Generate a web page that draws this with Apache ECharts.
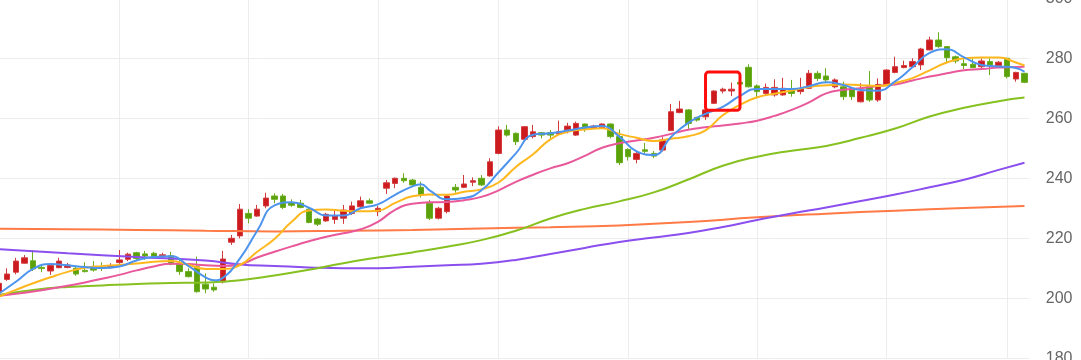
<!DOCTYPE html>
<html>
<head>
<meta charset="utf-8">
<script src="https://cdn.jsdelivr.net/npm/echarts@6/dist/echarts.min.js"></script>
<style>
html,body{margin:0;padding:0;background:#fff;}
#chart{width:1081px;height:360px;}
</style>
</head>
<body>
<div id="chart"></div>
<script>
// ---- data ----
const categories = Array.from({length: 120}, (_, i) => 'D' + (i + 1));

// [open, close, lowest, highest]
const candles = [
[202.0,205.0,201.0,206.0],[206.3,208.1,205.8,210.0],[208.7,212.4,208.0,213.5],[211.7,213.5,211.5,214.4],
[212.5,209.8,209.1,216.1],[210.3,209.9,208.7,211.3],[209.1,210.9,207.8,211.0],[210.2,212.4,210.0,213.5],
[210.3,211.1,210.0,211.8],[210.0,208.1,207.5,210.5],[209.3,208.9,208.6,212.0],[210.5,209.4,208.9,212.4],
[210.5,210.0,209.1,212.0],[210.3,210.8,210.0,211.7],[211.9,212.8,211.5,216.1],[213.0,214.7,212.4,215.2],
[215.2,213.3,212.8,215.5],[214.8,214.1,212.8,215.8],[215.0,213.9,213.3,215.5],[214.2,214.5,213.3,215.2],
[214.2,211.4,211.0,215.5],[211.4,208.9,207.8,212.8],[208.9,207.2,207.0,210.0],[210.5,202.2,201.9,213.9],
[204.7,203.1,201.7,208.3],[203.7,202.8,202.2,205.0],[205.5,213.1,205.0,215.8],[218.7,220.0,217.8,221.1],
[220.8,229.7,220.0,231.4],[228.3,226.7,225.0,229.7],[227.4,229.7,227.2,231.1],[230.8,233.4,230.0,235.2],
[234.1,233.0,231.7,235.0],[234.1,230.3,229.7,234.8],[231.9,231.0,230.5,233.0],[231.7,230.3,230.0,232.8],
[229.7,225.3,225.0,230.0],[226.4,224.7,224.1,226.8],[225.8,228.0,225.5,228.5],[226.3,227.4,224.8,229.2],
[226.7,229.4,224.8,231.1],[228.3,230.8,227.8,232.2],[230.5,232.5,230.0,233.9],[232.5,231.7,231.4,233.3],
[228.9,230.0,227.4,230.8],[236.7,238.5,234.8,239.4],[238.3,240.0,236.7,240.3],[240.0,239.2,238.5,241.7],
[239.4,237.8,237.4,239.8],[237.0,234.4,233.6,238.9],[231.7,226.7,226.1,232.8],[226.7,230.0,226.3,230.5],
[228.9,234.1,228.3,234.4],[237.0,236.1,235.2,238.1],[237.0,238.1,236.7,241.1],[238.7,239.2,237.4,240.3],
[240.0,237.8,237.4,241.1],[240.8,245.5,240.5,246.7],[248.3,256.1,248.0,257.3],[256.1,254.4,253.9,257.8],
[255.0,252.2,251.1,255.3],[253.0,257.2,252.5,257.4],[253.9,255.5,253.3,257.8],[255.2,254.4,253.3,255.5],
[255.2,254.4,253.3,256.1],[254.8,255.5,254.5,259.2],[256.1,257.4,255.0,258.5],[254.4,258.3,254.1,258.9],
[258.1,256.7,255.5,258.3],[256.8,257.4,256.4,257.8],[256.8,258.1,256.5,258.3],[258.1,253.9,253.3,258.3],
[253.9,245.2,244.4,256.3],[249.6,247.2,245.9,250.0],[246.3,248.3,245.0,249.2],[249.5,249.0,247.8,251.8],
[248.3,247.4,246.7,249.1],[249.4,252.8,248.9,253.7],[255.9,262.2,255.8,264.8],[261.9,263.1,261.7,265.8],
[262.8,258.3,256.1,263.1],[260.3,259.4,258.9,260.5],[260.5,262.8,259.4,263.3],[265.0,269.1,264.8,269.3],
[269.1,269.7,268.3,270.2],[269.1,269.7,267.4,271.9],[272.0,271.4,271.2,272.2],[277.0,270.5,270.3,278.0],
[270.8,268.9,266.7,271.3],[268.3,270.3,267.8,271.6],[267.8,270.3,267.2,273.0],[267.8,270.0,267.5,273.5],
[269.8,268.3,267.2,272.8],[268.9,269.8,268.0,273.5],[270.0,275.0,269.8,276.1],[275.0,273.3,272.4,275.8],
[274.1,272.8,271.7,276.7],[270.5,272.8,270.0,273.3],[270.5,267.2,266.1,272.2],[270.0,267.2,266.1,270.5],
[265.5,268.9,265.3,271.7],[270.9,266.1,265.5,275.8],[266.1,271.3,265.5,273.3],[271.3,276.1,271.1,276.4],
[275.3,277.2,275.0,280.5],[276.9,277.6,276.7,279.2],[277.2,278.9,276.9,280.0],[277.8,283.1,276.1,283.5],
[282.8,286.1,282.7,287.2],[286.1,283.9,283.5,288.7],[283.9,280.2,278.7,284.0],[280.5,279.1,278.3,280.9],
[278.2,277.6,276.4,279.7],[278.0,276.9,276.7,280.0],[277.2,279.1,276.7,280.0],[278.9,277.8,274.4,280.0],
[277.6,278.7,277.2,279.1],[280.0,273.9,273.3,280.2],[273.1,275.3,272.2,275.5],[275.0,272.0,271.7,275.2]
];

// moving-average lines: [candle index, value]
const ma5 = [[0,201.5],[2,205.5],[4,209.8],[6,211.4],[8,211.0],[10,210.4],[12,210.1],[14,210.6],[16,212.6],[18,213.8],
[20,214.0],[22,210.8],[24,207.0],[25,206.0],[26,206.8],[28,213.3],[30,222.5],[32,231.0],[34,232.0],[36,230.2],[38,227.6],
[40,227.6],[42,230.0],[44,231.3],[46,234.5],[48,237.3],[49,238.0],[50,236.0],[52,233.0],[54,233.4],[56,236.0],[58,242.0],
[60,248.3],[62,254.5],[64,255.0],[66,255.9],[68,256.9],[70,257.4],[72,253.9],[74,249.0],[76,247.8],[78,253.8],[80,258.5],
[82,261.5],[84,263.8],[86,267.5],[88,269.8],[90,269.8],[92,269.8],[94,270.7],[96,272.0],[98,271.1],[100,269.4],[102,269.2],
[104,272.3],[106,277.0],[108,281.8],[110,283.0],[112,280.3],[114,277.8],[116,277.3],[118,276.8],[119,275.5]];

const ma10 = [[0,200.5],[2,202.8],[4,205.0],[6,207.0],[8,208.8],[10,210.2],[12,210.7],[14,211.1],[16,211.6],[18,212.2],
[20,212.4],[22,211.2],[24,209.8],[26,209.8],[28,211.1],[30,215.5],[32,219.8],[34,225.5],[36,229.3],[38,229.6],[40,229.2],
[42,229.0],[44,229.2],[46,231.8],[48,234.0],[50,234.6],[52,234.5],[54,235.5],[56,236.3],[58,238.6],[60,243.8],[62,248.0],
[64,253.0],[66,255.5],[68,256.3],[70,256.7],[72,254.8],[74,253.5],[76,252.4],[78,253.2],[80,254.0],[82,256.0],[84,261.0],
[86,264.5],[88,267.0],[90,268.2],[92,269.3],[94,270.4],[96,271.0],[98,271.3],[100,271.0],[102,270.8],[104,271.8],[106,273.4],
[108,276.0],[110,278.6],[112,280.0],[114,280.3],[116,280.3],[118,278.6],[119,277.6]];

const ma20 = [[0,200.8],[2,201.5],[4,202.3],[6,203.2],[8,204.2],[10,205.3],[12,206.5],[14,207.8],[16,209.3],[18,210.6],
[20,211.5],[22,211.4],[24,211.0],[26,210.8],[28,211.3],[30,213.6],[32,215.5],[34,217.3],[36,219.0],[38,220.5],[40,221.7],
[42,223.0],[44,225.5],[46,229.5],[48,231.5],[50,232.0],[52,232.1],[54,232.7],[56,233.8],[58,236.0],[60,238.8],[62,241.2],
[64,243.3],[66,245.0],[68,247.5],[70,250.2],[72,251.7],[74,252.6],[76,253.5],[78,254.8],[80,256.2],[82,257.0],[84,257.6],
[86,258.3],[88,259.2],[90,260.8],[92,262.8],[94,265.3],[96,268.3],[98,269.5],[100,270.0],[102,270.8],[104,271.3],[106,272.6],
[108,273.9],[110,275.0],[112,276.0],[114,276.4],[116,276.9],[118,277.1],[119,277.2]];

const ma60 = [[0,201.1],[4,202.8],[8,203.8],[12,204.3],[16,204.8],[20,205.1],[24,205.3],[28,206.0],[32,207.6],[36,209.5],
[40,211.7],[44,213.6],[48,215.3],[52,217.2],[56,219.4],[60,222.5],[64,226.6],[68,229.8],[72,232.3],[76,235.3],[80,239.6],
[84,244.2],[88,247.2],[92,249.2],[96,250.8],[100,253.5],[104,256.6],[108,260.6],[112,263.5],[116,265.7],[119,266.9]];

const ma120 = [[0,216.4],[8,215.0],[16,213.8],[24,212.6],[28,211.3],[32,210.8],[36,210.3],[40,210.0],[44,210.0],[48,210.5],
[52,211.0],[56,211.5],[60,212.8],[64,214.8],[68,216.8],[72,218.8],[76,220.3],[80,221.8],[84,223.8],[88,226.1],[92,228.3],
[96,230.3],[100,232.4],[104,234.6],[108,237.0],[112,239.5],[116,242.8],[119,245.2]];

const ma250 = [[0,223.2],[8,223.0],[16,222.8],[24,222.5],[32,222.3],[40,222.5],[48,222.8],[56,223.3],[64,223.7],[72,224.3],
[80,225.4],[88,227.0],[96,228.2],[104,229.2],[112,230.1],[119,230.8]];

const yTicks = [180, 200, 220, 240, 260, 280, 300];
const splitIndices = [14, 29, 44, 58, 73, 88, 103, 117];
// highlight box: [from index, to index, low value, high value]
const highlightBox = [[82, 86, 262.7, 275.4]];

// ---- chart ----
const chart = echarts.init(document.getElementById('chart'), null, {renderer: 'canvas'});
const splitSet = new Set(splitIndices);

function maSeries(name, data, color) {
  return {
    name: name, type: 'line', data: data, smooth: true, showSymbol: false, symbol: 'none',
    lineStyle: {color: color, width: 2}, itemStyle: {color: color}, silent: true, z: 3
  };
}

chart.setOption({
  animation: false,
  backgroundColor: '#ffffff',
  grid: {left: -5.7, right: 52.2, top: -1.7, bottom: 1.7, containLabel: false, outerBoundsMode: 'none'},
  xAxis: {
    type: 'category', data: categories, boundaryGap: true,
    axisLine: {show: false}, axisTick: {show: false}, axisLabel: {show: false},
    splitLine: {show: true, alignWithLabel: true, interval: (idx) => splitSet.has(idx),
      lineStyle: {color: '#ececec', width: 1}}
  },
  yAxis: {
    type: 'value', position: 'right', min: yTicks[0], max: yTicks[yTicks.length - 1], interval: 20,
    axisLine: {show: false}, axisTick: {show: false},
    axisLabel: {color: '#666666', fontSize: 16, margin: 17, fontFamily: '"Liberation Sans", Arial, sans-serif'},
    splitLine: {show: true, lineStyle: {color: '#ececec', width: 1}}
  },
  series: [
    {
      name: 'K', type: 'candlestick', data: candles, barWidth: 6, z: 2,
      itemStyle: {color: '#cc1b1f', color0: '#5ba10b', borderColor: '#d23a3c', borderColor0: '#6aad1e', borderWidth: 1}
    },
    maSeries('MA250', ma250, '#ff7a45'),
    maSeries('MA120', ma120, '#8a4fee'),
    maSeries('MA60', ma60, '#86c120'),
    maSeries('MA20', ma20, '#e8589a'),
    maSeries('MA10', ma10, '#ffb71e'),
    maSeries('MA5', ma5, '#4d94ef'),
    {
      name: 'box', type: 'custom', data: highlightBox, z: 5, silent: true,
      encode: {x: [0, 1], y: [2, 3]},
      renderItem: function (params, api) {
        const p1 = api.coord([api.value(0), api.value(3)]);
        const p2 = api.coord([api.value(1), api.value(2)]);
        return {
          type: 'rect',
          shape: {x: p1[0], y: p1[1], width: p2[0] - p1[0], height: p2[1] - p1[1], r: 3},
          style: {fill: 'none', stroke: '#ff0d0d', lineWidth: 3}
        };
      }
    }
  ]
});
</script>
</body>
</html>
